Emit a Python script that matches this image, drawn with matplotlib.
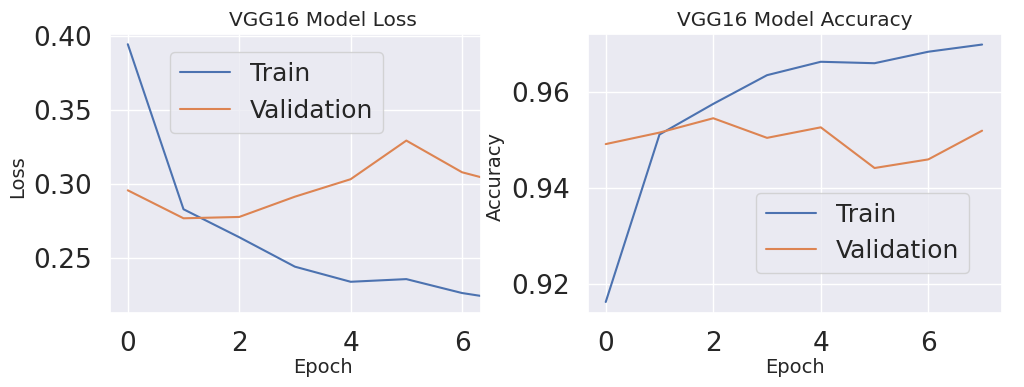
import matplotlib
matplotlib.use("Agg")
import matplotlib.pyplot as plt
import seaborn as sns

sns.set_theme(style="darkgrid")
plt.rcParams['font.family'] = ['DejaVu Sans']

# data
epochs = [0, 1, 2, 3, 4, 5, 6, 7]
train_loss = [0.3944, 0.2829, 0.2640, 0.2441, 0.2339, 0.2357, 0.2263, 0.2205]
val_loss = [0.2957, 0.2768, 0.2777, 0.2914, 0.3032, 0.3293, 0.3079, 0.2980]
train_acc = [0.9162, 0.9512, 0.9576, 0.9636, 0.9664, 0.9661, 0.9685, 0.9700]
val_acc = [0.9492, 0.9516, 0.9546, 0.9505, 0.9527, 0.9442, 0.9460, 0.9520]
legend_labels = ["Train", "Validation"]

fig = plt.figure(figsize=(10.24, 3.87), dpi=100)
ax1 = fig.add_axes([0.1074, 0.1912, 0.3623, 0.7209])
ax2 = fig.add_axes([0.5742, 0.1912, 0.4043, 0.7209])

# loss (right part of this panel is cut off in the original)
ax1.plot(epochs, train_loss, linewidth=1.5)
ax1.plot(epochs, val_loss, linewidth=1.5)
ax1.set_xlim(-0.32, 6.34)
ax1.set_ylim(0.2128, 0.4013)
ax1.set_xticks([0, 2, 4, 6])
ax1.set_yticks([0.25, 0.30, 0.35, 0.40])
ax1.tick_params(labelsize=19, pad=7)
ax1.set_title("VGG16 Model Loss", fontsize=14.5, x=0.574)
ax1.set_xlabel("Epoch", fontsize=14)
ax1.xaxis.set_label_coords(0.574, -0.16)
ax1.xaxis.label.set_va("top")
ax1.set_ylabel("Loss", fontsize=14)
ax1.yaxis.set_label_coords(-0.224, 0.49)
ax1.legend(legend_labels, fontsize=18, loc="upper left",
           bbox_to_anchor=(0.162, 0.935), borderaxespad=0)

# accuracy
ax2.plot(epochs, train_acc, linewidth=1.5)
ax2.plot(epochs, val_acc, linewidth=1.5)
ax2.set_xlim(-0.33, 7.37)
ax2.set_ylim(0.9139, 0.9722)
ax2.set_xticks([0, 2, 4, 6])
ax2.set_yticks([0.92, 0.94, 0.96])
ax2.tick_params(labelsize=19, pad=7)
ax2.set_title("VGG16 Model Accuracy", fontsize=14.5)
ax2.set_xlabel("Epoch", fontsize=14)
ax2.xaxis.set_label_coords(0.5, -0.16)
ax2.xaxis.label.set_va("top")
ax2.set_ylabel("Accuracy", fontsize=14)
ax2.yaxis.set_label_coords(-0.200, 0.49)
ax2.legend(legend_labels, fontsize=18, loc="lower left",
           bbox_to_anchor=(0.406, 0.143), borderaxespad=0)

fig.savefig("out.png", dpi=100)
